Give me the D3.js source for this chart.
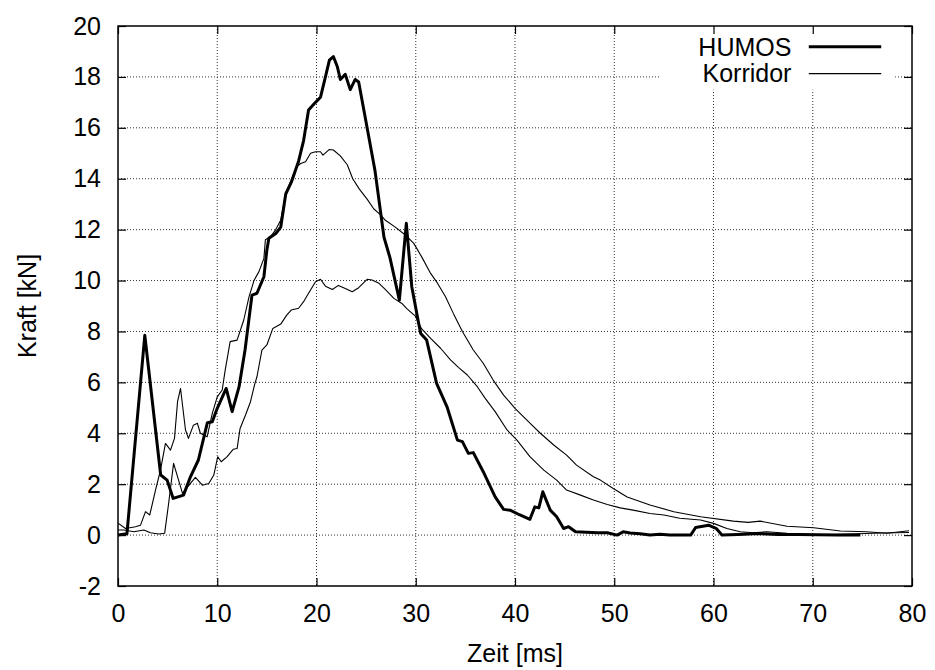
<!DOCTYPE html>
<html>
<head>
<meta charset="utf-8">
<script src="https://cdn.jsdelivr.net/npm/d3@7"></script>
<style>
body { margin: 0; background: #fff; }
svg text { font-family: "Liberation Sans", Arial, sans-serif; fill: #000; }
.grid line { stroke: #333; stroke-width: 1; stroke-dasharray: 1,2; }
.line { fill: none; stroke: #000; stroke-linejoin: round; }
</style>
</head>
<body>
<div id="chart"></div>
<script>
// Zeit [ms], Kraft [kN]
var xTicks = [0, 10, 20, 30, 40, 50, 60, 70, 80];
var yTicks = [-2, 0, 2, 4, 6, 8, 10, 12, 14, 16, 18, 20];
var seriesNames = ["HUMOS", "Korridor"];

var humos = [
    [0, 0], [0.9, 0.05], [2.7, 7.85], [4.3, 2.36], [4.95, 2.16], [5.56, 1.44], [6.6, 1.57],
    [7.3, 2.29], [8.1, 2.95], [9.0, 4.41], [9.5, 4.45], [10.0, 4.98], [10.9, 5.76], [11.5, 4.85],
    [12.2, 5.83], [12.8, 7.27], [13.5, 9.43], [14.0, 9.5], [14.7, 10.15], [15.0, 11.2],
    [15.2, 11.66], [15.9, 11.85], [16.4, 12.1], [16.9, 13.4], [17.5, 13.9], [18.2, 14.7],
    [18.7, 15.5], [19.2, 16.7], [19.9, 17.0], [20.4, 17.2], [20.9, 18.0], [21.3, 18.66],
    [21.7, 18.8], [22.1, 18.4], [22.4, 17.9], [22.9, 18.1], [23.4, 17.5], [23.9, 17.9],
    [24.25, 17.8], [25.1, 16.0], [25.9, 14.3], [26.8, 11.7], [27.4, 10.9], [28.35, 9.23],
    [29.05, 12.25], [29.6, 9.76], [30.3, 8.3], [30.5, 7.92], [31.1, 7.66], [32.1, 5.96],
    [33.15, 5.04], [34.2, 3.73], [34.7, 3.67], [35.3, 3.21], [35.8, 3.24], [36.8, 2.49],
    [38.0, 1.5], [38.85, 1.01], [39.5, 0.98], [40.5, 0.79], [41.5, 0.62], [42.0, 1.11],
    [42.4, 1.07], [42.8, 1.7], [43.55, 0.98], [44.2, 0.72], [44.9, 0.26], [45.4, 0.33],
    [46.1, 0.13], [48.3, 0.09], [49.3, 0.09], [50.3, 0.0], [50.9, 0.13], [51.6, 0.08],
    [52.6, 0.05], [53.6, 0.0], [54.6, 0.03], [55.6, 0.0], [57.7, 0.0], [58.2, 0.3],
    [59.5, 0.39], [60.3, 0.25], [60.85, 0.0], [62.5, 0.02], [64.5, 0.06], [66.5, 0.02],
    [68.5, 0.02], [70.5, 0.01], [72.5, 0.0], [74.8, 0.0]
];

var korridorOben = [
    [0, 0.47], [0.76, 0.26], [1.76, 0.33], [2.27, 0.39], [2.77, 0.92], [3.2, 0.79], [3.78, 1.77],
    [4.28, 2.55], [4.78, 3.6], [5.29, 3.34], [5.69, 3.8], [6.0, 5.24], [6.3, 5.76], [6.8, 4.13],
    [7.1, 3.8], [7.6, 4.32], [8.0, 4.39], [8.3, 4.0], [8.98, 3.86], [9.5, 4.78], [10.0, 5.43],
    [10.5, 5.7], [10.8, 6.48], [11.3, 7.6], [12.0, 7.66], [12.67, 8.45], [13.2, 9.36],
    [13.7, 10.0], [14.2, 10.35], [14.7, 10.87], [14.85, 11.6], [15.36, 11.72], [15.86, 11.98],
    [16.4, 12.38], [16.9, 13.4], [17.5, 14.0], [18.0, 14.47], [18.4, 14.6], [18.9, 14.67],
    [19.4, 15.0], [19.9, 15.06], [20.4, 15.06], [20.65, 14.93], [21.3, 15.15], [21.7, 15.13],
    [22.4, 14.9], [23.1, 14.55], [23.65, 14.0], [24.3, 13.6], [25.1, 13.2], [25.76, 12.82],
    [26.4, 12.6], [26.9, 12.38], [27.9, 12.11], [28.95, 11.79], [29.8, 11.46], [30.6, 10.93],
    [31.5, 10.28], [32.1, 9.95], [33.0, 9.36], [33.8, 8.7], [34.7, 8.0], [35.8, 7.27],
    [36.8, 6.75], [37.8, 6.09], [38.85, 5.5], [40.0, 4.98], [41.2, 4.52], [42.5, 4.02],
    [43.9, 3.54], [45.2, 3.14], [46.2, 2.75], [47.9, 2.29], [48.6, 2.16], [49.9, 1.83],
    [51.3, 1.5], [53.6, 1.18], [56.0, 0.92], [58.7, 0.72], [62.0, 0.55], [63.5, 0.5],
    [64.7, 0.55], [67.4, 0.35], [70.1, 0.29], [72.8, 0.16], [75.4, 0.13], [77.5, 0.07],
    [79.7, 0.17]
];

var korridorUnten = [
    [0, 0.2], [0.6, 0.2], [1.6, 0.13], [2.6, 0.2], [3.27, 0.09], [4.1, 0.04], [4.7, 0.07],
    [5.1, 1.24], [5.6, 2.82], [6.5, 1.64], [7.3, 2.03], [7.8, 2.27], [8.5, 1.96], [9.15, 2.03],
    [9.65, 2.36], [10.05, 3.08], [10.4, 2.88], [11.0, 3.08], [11.6, 3.37], [12.0, 3.4],
    [12.3, 4.19], [12.85, 4.72], [13.35, 5.24], [13.75, 5.89], [14.0, 6.22], [14.5, 7.27],
    [15.0, 7.47], [15.6, 8.12], [16.4, 8.29], [17.0, 8.64], [17.45, 8.84], [18.2, 8.91],
    [18.7, 9.17], [19.2, 9.5], [19.9, 9.95], [20.4, 10.05], [20.9, 9.78], [21.6, 9.65],
    [22.2, 9.81], [22.9, 9.69], [23.6, 9.56], [24.25, 9.72], [25.1, 10.05], [25.6, 10.02],
    [26.3, 9.89], [26.9, 9.66], [27.8, 9.3], [28.6, 9.1], [29.1, 8.9], [29.96, 8.6],
    [30.6, 8.1], [31.5, 7.73], [32.5, 7.34], [33.5, 6.88], [34.3, 6.59], [35.2, 6.29],
    [36.2, 5.83], [37.0, 5.37], [38.0, 4.85], [39.2, 4.13], [40.2, 3.73], [41.5, 3.08],
    [42.9, 2.55], [44.2, 2.16], [45.2, 1.77], [46.6, 1.57], [47.9, 1.38], [49.3, 1.2],
    [50.6, 1.07], [51.9, 0.98], [53.6, 0.85], [55.0, 0.79], [56.6, 0.66], [58.7, 0.59],
    [60.0, 0.46], [61.35, 0.26], [62.7, 0.13], [64.0, 0.09], [65.4, 0.13], [67.4, 0.07],
    [69.4, 0.03], [72.1, 0.02], [74.5, 0.05], [77.0, 0.08], [79.7, 0.1]
];

var W = 935, H = 670,
    margin = {top: 26, right: 23, bottom: 84, left: 118},
    width = W - margin.left - margin.right,
    height = H - margin.top - margin.bottom;

var svg = d3.select("#chart").append("svg")
    .attr("width", W)
    .attr("height", H);

var g = svg.append("g")
    .attr("transform", "translate(" + margin.left + "," + margin.top + ")");

var x = d3.scaleLinear().domain([0, 80]).range([0, width]);
var y = d3.scaleLinear().domain([-2, 20]).range([height, 0]);

// dotted grid
var grid = g.append("g").attr("class", "grid");
grid.selectAll(".gx")
    .data(xTicks.slice(1, -1))
    .enter().append("line")
    .attr("x1", function (d) { return x(d); })
    .attr("x2", function (d) { return x(d); })
    .attr("y1", 0)
    .attr("y2", height);
grid.selectAll(".gy")
    .data(yTicks.slice(1, -1))
    .enter().append("line")
    .attr("x1", 0)
    .attr("x2", width)
    .attr("y1", function (d) { return y(d); })
    .attr("y2", function (d) { return y(d); });

// legend background hides the grid behind it
var legend = g.append("g");
legend.append("rect")
    .attr("x", x(54.6))
    .attr("y", 0)
    .attr("width", x(78.3) - x(54.6))
    .attr("height", y(17.5))
    .style("fill", "#fff");

// axes, ticks inside and mirrored
function plain(d) { return String(d); }
function tickLines(axis) { axis.selectAll(".domain").remove(); }
g.append("g")
    .attr("transform", "translate(0," + height + ")")
    .call(d3.axisBottom(x).tickValues(xTicks).tickSize(-8).tickPadding(18).tickFormat(plain))
    .call(tickLines);
g.append("g")
    .call(d3.axisTop(x).tickValues(xTicks).tickSize(-8).tickFormat(""))
    .call(tickLines);
g.append("g")
    .call(d3.axisLeft(y).tickValues(yTicks).tickSize(-8).tickPadding(17).tickFormat(plain))
    .call(tickLines);
g.append("g")
    .attr("transform", "translate(" + width + ",0)")
    .call(d3.axisRight(y).tickValues(yTicks).tickSize(-8).tickFormat(""))
    .call(tickLines);
g.selectAll(".tick line").style("stroke", "#000").style("stroke-width", 1.2);
g.selectAll(".tick text")
    .attr("font-family", null)
    .style("font-size", "25px");

var line = d3.line()
    .x(function (d) { return x(d[0]); })
    .y(function (d) { return y(d[1]); });

g.append("path").datum(korridorOben).attr("class", "line").attr("d", line).style("stroke-width", 1.1);
g.append("path").datum(korridorUnten).attr("class", "line").attr("d", line).style("stroke-width", 1.1);
g.append("path").datum(humos).attr("class", "line").attr("d", line).style("stroke-width", 3);

// frame
g.append("rect")
    .attr("width", width)
    .attr("height", height)
    .style("fill", "none")
    .style("stroke", "#000")
    .style("stroke-width", 1.5);

// legend
var legendY = [y(19.18), y(18.13)];
var widths = [3, 1.1];
seriesNames.forEach(function (name, i) {
    legend.append("text")
        .attr("x", x(67.85))
        .attr("y", legendY[i])
        .attr("dy", "0.35em")
        .attr("text-anchor", "end")
        .style("font-size", "25px")
        .text(name);
    legend.append("line")
        .attr("x1", x(69.6))
        .attr("x2", x(76.9))
        .attr("y1", legendY[i])
        .attr("y2", legendY[i])
        .style("stroke", "#000")
        .style("stroke-width", widths[i]);
});

// axis titles
svg.append("text")
    .attr("x", margin.left + width / 2)
    .attr("y", 662)
    .attr("text-anchor", "middle")
    .style("font-size", "25px")
    .text("Zeit [ms]");
svg.append("text")
    .attr("transform", "translate(36," + (margin.top + height / 2) + ") rotate(-90)")
    .attr("text-anchor", "middle")
    .style("font-size", "25px")
    .text("Kraft [kN]");
</script>
</body>
</html>
